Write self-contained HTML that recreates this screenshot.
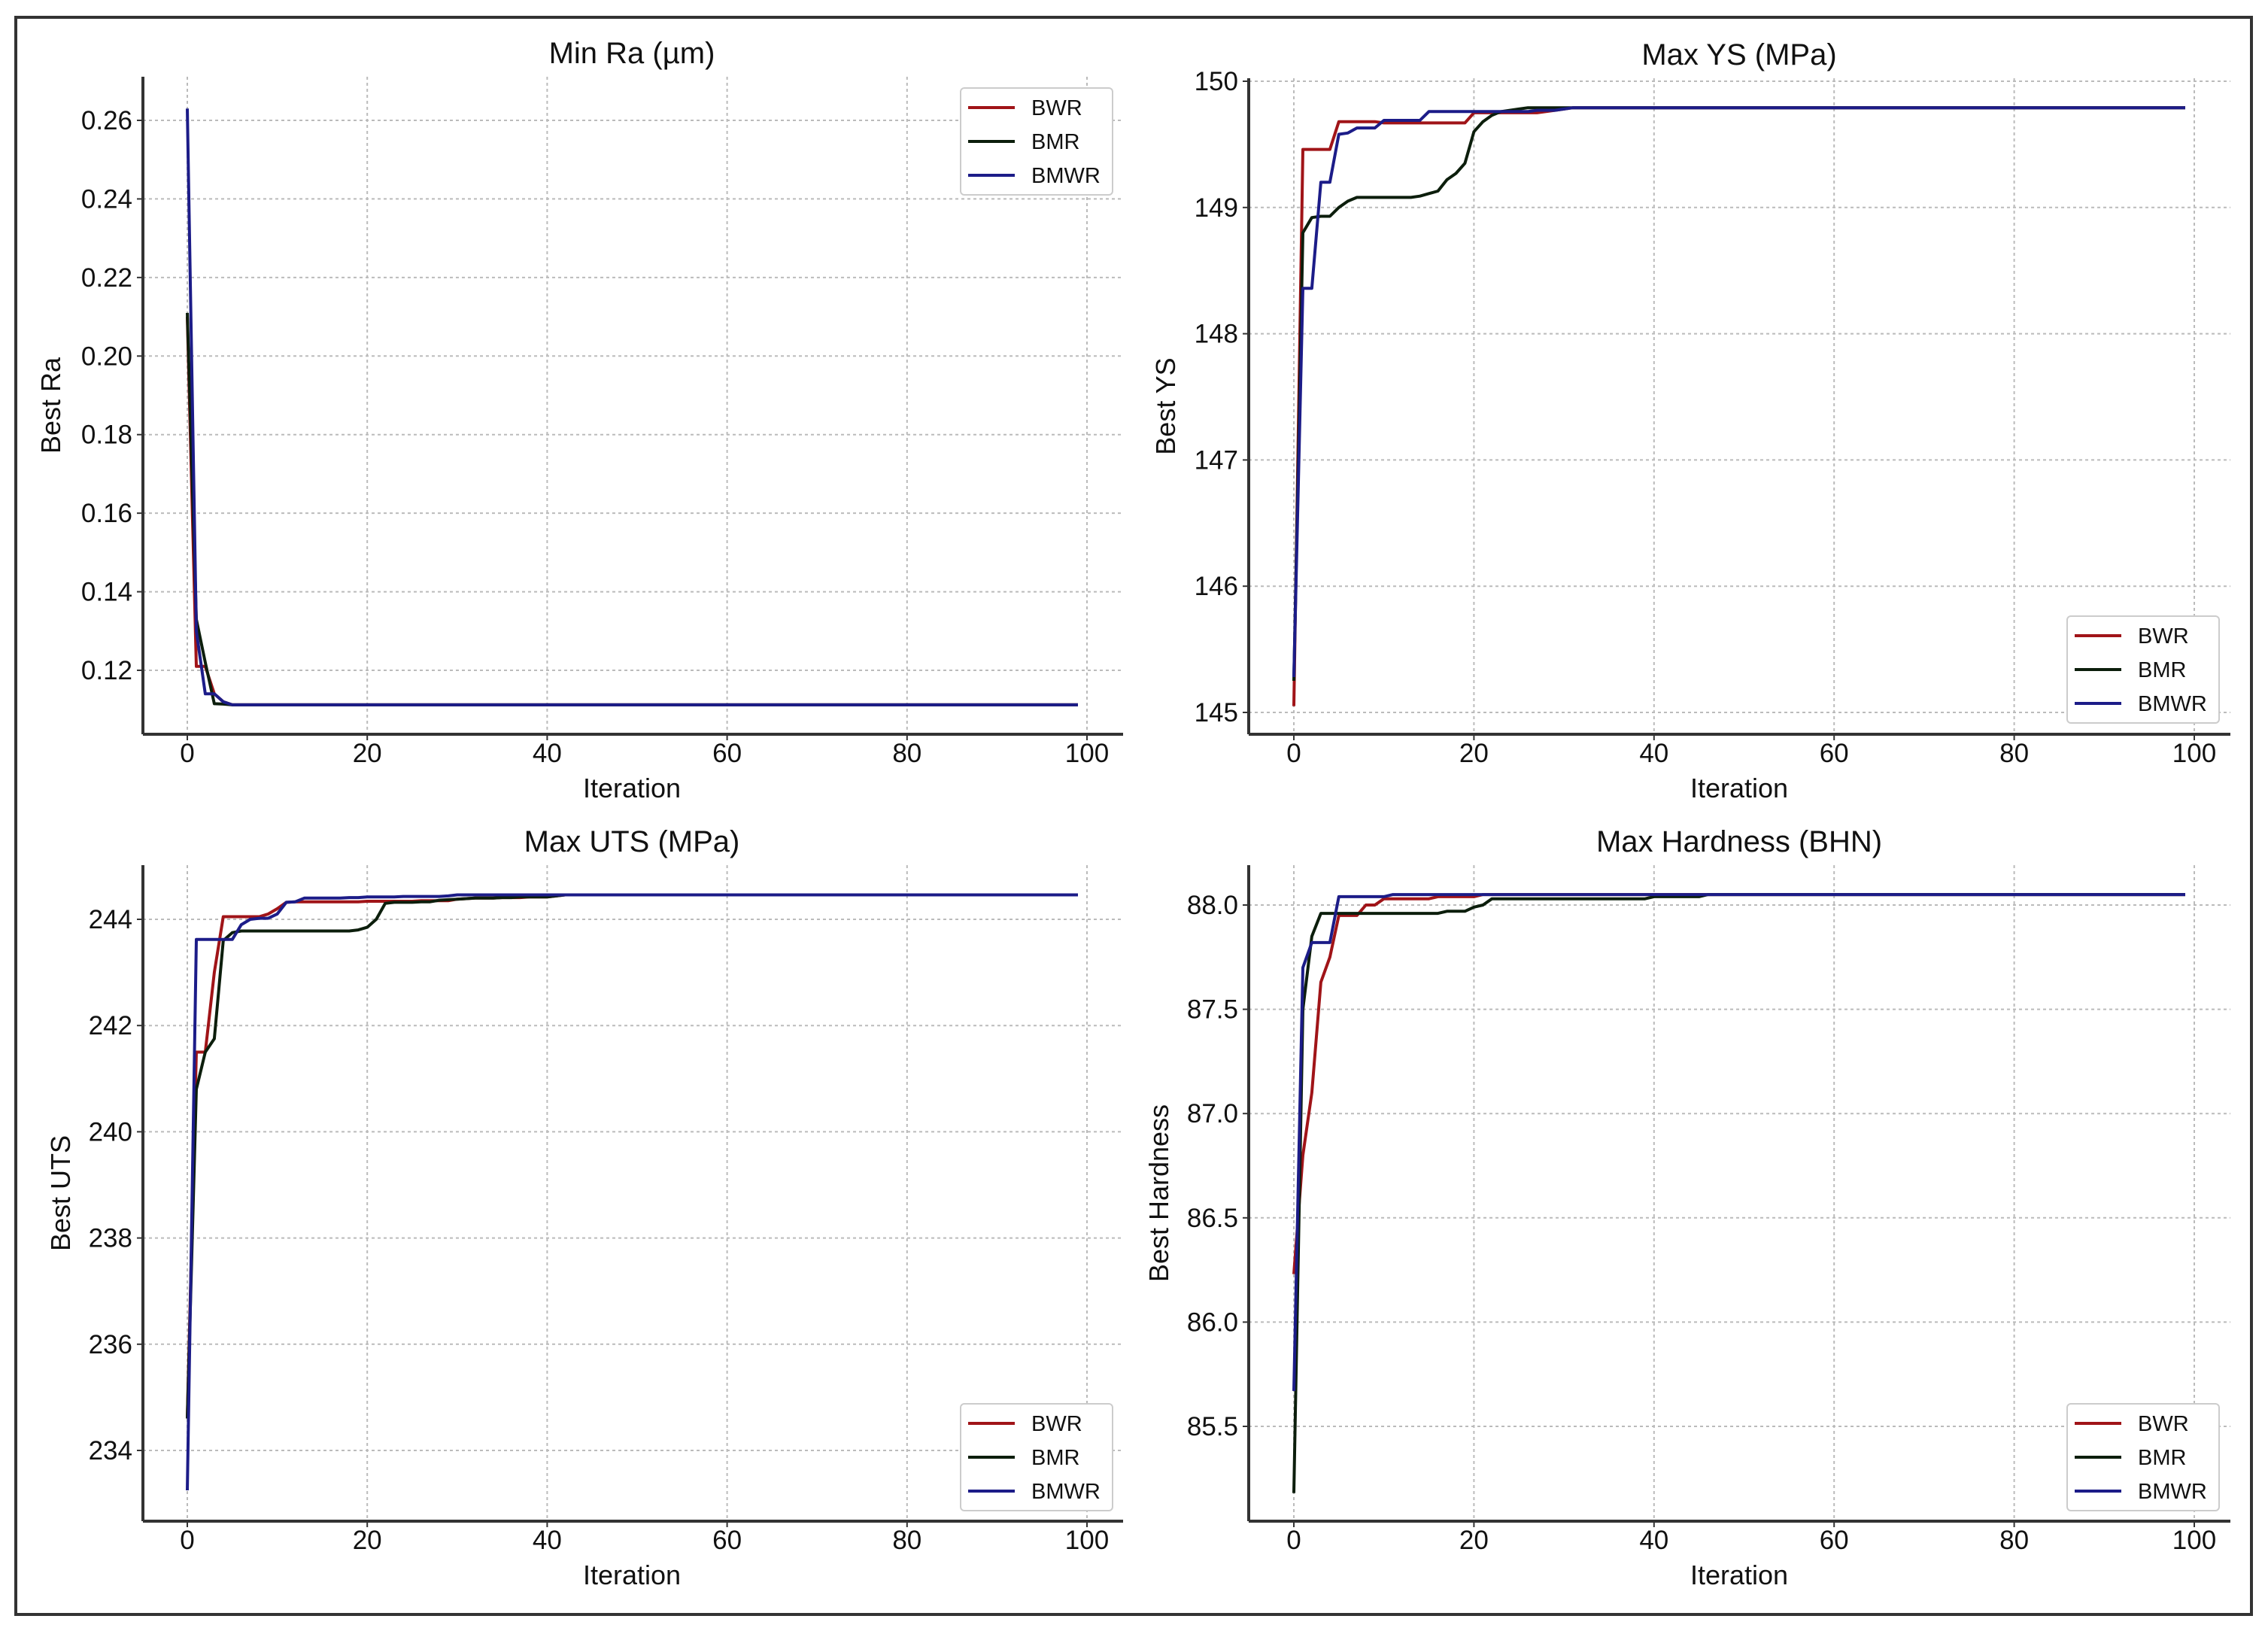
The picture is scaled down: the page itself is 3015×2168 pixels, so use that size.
<!DOCTYPE html>
<html><head><meta charset="utf-8">
<style>
html,body{margin:0;padding:0;background:#fff;}
svg{display:block;}
text{font-family:"Liberation Sans",sans-serif;fill:#111;}
</style></head>
<body>
<svg id="fig" width="3015" height="2168" xmlns="http://www.w3.org/2000/svg">
<rect x="21" y="23" width="2972" height="2123" fill="#fff" stroke="#333" stroke-width="4"/>
</svg>
<script>
const iterTicks=[0,20,40,60,80,100];
function plateau(arr,v){const a=arr.slice();while(a.length<100)a.push(v);return a;}
// Min Ra
const raTicks=[0.12,0.14,0.16,0.18,0.20,0.22,0.24,0.26];
const raTickLabels=["0.12","0.14","0.16","0.18","0.20","0.22","0.24","0.26"];
const raBWR=plateau([0.210,0.121,0.121,0.114,0.112],0.1112);
const raBMR=plateau([0.211,0.133,0.122,0.1115,0.1114],0.1112);
const raBMWR=plateau([0.263,0.130,0.114,0.114,0.112],0.1112);
// Max YS
const ysTicks=[145,146,147,148,149,150];
const ysTickLabels=["145","146","147","148","149","150"];
const ysBWR=plateau([145.05,149.46,149.46,149.46,149.46,149.68,149.68,149.68,149.68,149.68,149.67,149.67,149.67,149.67,149.67,149.67,149.67,149.67,149.67,149.67,149.75,149.75,149.75,149.75,149.75,149.75,149.75,149.75,149.76,149.77,149.78],149.79);
const ysBMR=plateau([145.25,148.8,148.92,148.93,148.93,149.0,149.05,149.08,149.08,149.08,149.08,149.08,149.08,149.08,149.09,149.11,149.13,149.22,149.27,149.35,149.6,149.68,149.73,149.76,149.77,149.78],149.79);
const ysBMWR=plateau([145.28,148.36,148.36,149.2,149.2,149.58,149.59,149.63,149.63,149.63,149.69,149.69,149.69,149.69,149.69,149.76,149.76,149.76,149.76,149.76,149.76,149.76,149.76,149.76,149.76,149.76,149.76,149.77,149.77,149.77,149.78],149.79);
// Max UTS
const utsTicks=[234,236,238,240,242,244];
const utsTickLabels=["234","236","238","240","242","244"];
const utsBWR=plateau([234.6,241.5,241.5,243.0,244.05,244.05,244.05,244.05,244.05,244.1,244.2,244.32,244.33,244.33,244.33,244.33,244.33,244.33,244.33,244.33,244.34,244.34,244.34,244.34,244.34,244.34,244.35,244.35,244.35,244.35,244.38,244.39,244.4,244.4,244.4,244.41,244.41,244.41,244.42,244.42,244.42,244.44],244.46);
const utsBMR=plateau([234.6,240.8,241.5,241.75,243.6,243.75,243.78,243.78,243.78,243.78,243.78,243.78,243.78,243.78,243.78,243.78,243.78,243.78,243.78,243.8,243.85,244.0,244.3,244.32,244.32,244.32,244.33,244.33,244.36,244.37,244.38,244.39,244.4,244.4,244.4,244.41,244.41,244.42,244.42,244.42,244.42,244.44],244.46);
const utsBMWR=plateau([233.25,243.62,243.62,243.62,243.62,243.62,243.9,244.0,244.02,244.02,244.1,244.32,244.33,244.4,244.4,244.4,244.4,244.4,244.41,244.41,244.42,244.42,244.42,244.42,244.43,244.43,244.43,244.43,244.43,244.44],244.46);
// Max Hardness
const hdTicks=[85.5,86.0,86.5,87.0,87.5,88.0];
const hdTickLabels=["85.5","86.0","86.5","87.0","87.5","88.0"];
const hdBWR=plateau([86.23,86.8,87.1,87.63,87.75,87.95,87.95,87.95,88.0,88.0,88.03,88.03,88.03,88.03,88.03,88.03,88.04,88.04,88.04,88.04,88.04],88.05);
const hdBMR=plateau([85.18,87.5,87.85,87.96,87.96,87.96,87.96,87.96,87.96,87.96,87.96,87.96,87.96,87.96,87.96,87.96,87.96,87.97,87.97,87.97,87.99,88.0,88.03,88.03,88.03,88.03,88.03,88.03,88.03,88.03,88.03,88.03,88.03,88.03,88.03,88.03,88.03,88.03,88.03,88.03,88.04,88.04,88.04,88.04,88.04,88.04],88.05);
const hdBMWR=plateau([85.67,87.7,87.82,87.82,87.82,88.04,88.04,88.04,88.04,88.04,88.04],88.05);

const colors={BWR:"#a01418",BMR:"#0c1e0c",BMWR:"#1c1c88"};
const NS="http://www.w3.org/2000/svg";
const svg=document.getElementById('fig');
function mk(tag,attrs,parent){const e=document.createElementNS(NS,tag);for(const k in attrs)e.setAttribute(k,attrs[k]);(parent||svg).appendChild(e);return e;}

function panel(cfg){
  const g=mk('g',{});
  
  
  const X=v=>cfg.x0+(v-0)*(cfg.x100-cfg.x0)/100;
  const Y=v=>cfg.yA+(v-cfg.vA)*(cfg.yB-cfg.yA)/(cfg.vB-cfg.vA);
  // grid
  iterTicks.forEach(t=>{
    const l=mk('line',{x1:X(t),x2:X(t),y1:cfg.top,y2:cfg.bottom,stroke:"#bbb","stroke-width":2,"stroke-dasharray":"4 4"},g);
    
    
  });
  cfg.yTicks.forEach(t=>{
    const l=mk('line',{x1:cfg.left,x2:cfg.right,y1:Y(t),y2:Y(t),stroke:"#bbb","stroke-width":2,"stroke-dasharray":"4 4"},g);
    
    
  });
  // series
  [["BWR",cfg.s[0]],["BMR",cfg.s[1]],["BMWR",cfg.s[2]]].forEach(([nm,arr])=>{
    const d=arr.map((v,i)=>(i?'L':'M')+X(i).toFixed(1)+' '+Y(v).toFixed(1)).join(' ');
    const p=mk('path',{d:d,fill:"none",stroke:colors[nm],"stroke-width":4,"stroke-linejoin":"round"},g);
    
    
  });
  // spines
  const sp1=mk('line',{x1:cfg.left,x2:cfg.left,y1:cfg.top,y2:cfg.bottom,stroke:"#333","stroke-width":4},g);
  
  
  const sp2=mk('line',{x1:cfg.left,x2:cfg.right,y1:cfg.bottom,y2:cfg.bottom,stroke:"#333","stroke-width":4},g);
  
  
  // tick labels
  iterTicks.forEach(t=>{
    mk('line',{x1:X(t),x2:X(t),y1:cfg.bottom,y2:cfg.bottom+8,stroke:"#333","stroke-width":2},g);
    const tx=mk('text',{x:X(t),y:cfg.bottom+37,"text-anchor":"middle","font-size":35},g);
    tx.textContent=String(t);
    
    
  });
  cfg.yTicks.forEach((t,i)=>{
    mk('line',{x1:cfg.left-8,x2:cfg.left,y1:Y(t),y2:Y(t),stroke:"#333","stroke-width":2},g);
    const tx=mk('text',{x:cfg.left-14,y:Y(t)+12,"text-anchor":"end","font-size":35},g);
    tx.textContent=cfg.yLabels[i];
    
    
  });
  // title & labels
  const ti=mk('text',{x:cfg.cx,y:cfg.top-18,"text-anchor":"middle","font-size":40},g);
  ti.textContent=cfg.title;
  
  
  const xl=mk('text',{x:cfg.cx,y:cfg.bottom+84,"text-anchor":"middle","font-size":36},g);
  xl.textContent="Iteration";
  
  
  const ymid=(cfg.top+cfg.bottom)/2;
  const yl=mk('text',{x:cfg.ylx,y:ymid,"text-anchor":"middle","font-size":36,transform:`rotate(-90 ${cfg.ylx} ${ymid})`},g);
  yl.textContent=cfg.ylabel;
  
  
  // legend
  const lg=mk('g',{},g);
  
  
  mk('rect',{x:cfg.lx,y:cfg.ly,width:202,height:142,rx:5,fill:"#fff",stroke:"#ccc","stroke-width":2},lg);
  ["BWR","BMR","BMWR"].forEach((nm,i)=>{
    const yy=cfg.ly+26+i*45;
    mk('line',{x1:cfg.lx+10,x2:cfg.lx+72,y1:yy,y2:yy,stroke:colors[nm],"stroke-width":4},lg);
    const tx=mk('text',{x:cfg.lx+94,y:yy+10,"font-size":29},lg);
    tx.textContent=nm;
    
    
  });
}

panel({name:'panel-min-ra',title:'Min Ra (µm)',ylabel:'Best Ra',left:190,right:1493,top:102,bottom:976,x0:249,x100:1445,
  vA:0.26,yA:160,vB:0.12,yB:891,yTicks:raTicks,yLabels:raTickLabels,s:[raBWR,raBMR,raBMWR],cx:840,ylx:80,lx:1277,ly:117});
panel({name:'panel-max-ys',title:'Max YS (MPa)',ylabel:'Best YS',left:1660,right:2965,top:104,bottom:976,x0:1720,x100:2917,
  vA:150,yA:108,vB:145,yB:947,yTicks:ysTicks,yLabels:ysTickLabels,s:[ysBWR,ysBMR,ysBMWR],cx:2312,ylx:1562,lx:2748,ly:819});
panel({name:'panel-max-uts',title:'Max UTS (MPa)',ylabel:'Best UTS',left:190,right:1493,top:1150,bottom:2022,x0:249,x100:1445,
  vA:244,yA:1222,vB:234,yB:1928,yTicks:utsTicks,yLabels:utsTickLabels,s:[utsBWR,utsBMR,utsBMWR],cx:840,ylx:93,lx:1277,ly:1866});
panel({name:'panel-max-hardness',title:'Max Hardness (BHN)',ylabel:'Best Hardness',left:1660,right:2965,top:1150,bottom:2022,x0:1720,x100:2917,
  vA:88.0,yA:1203,vB:85.5,yB:1896,yTicks:hdTicks,yLabels:hdTickLabels,s:[hdBWR,hdBMR,hdBMWR],cx:2312,ylx:1553,lx:2748,ly:1866});
</script>
</body></html>
